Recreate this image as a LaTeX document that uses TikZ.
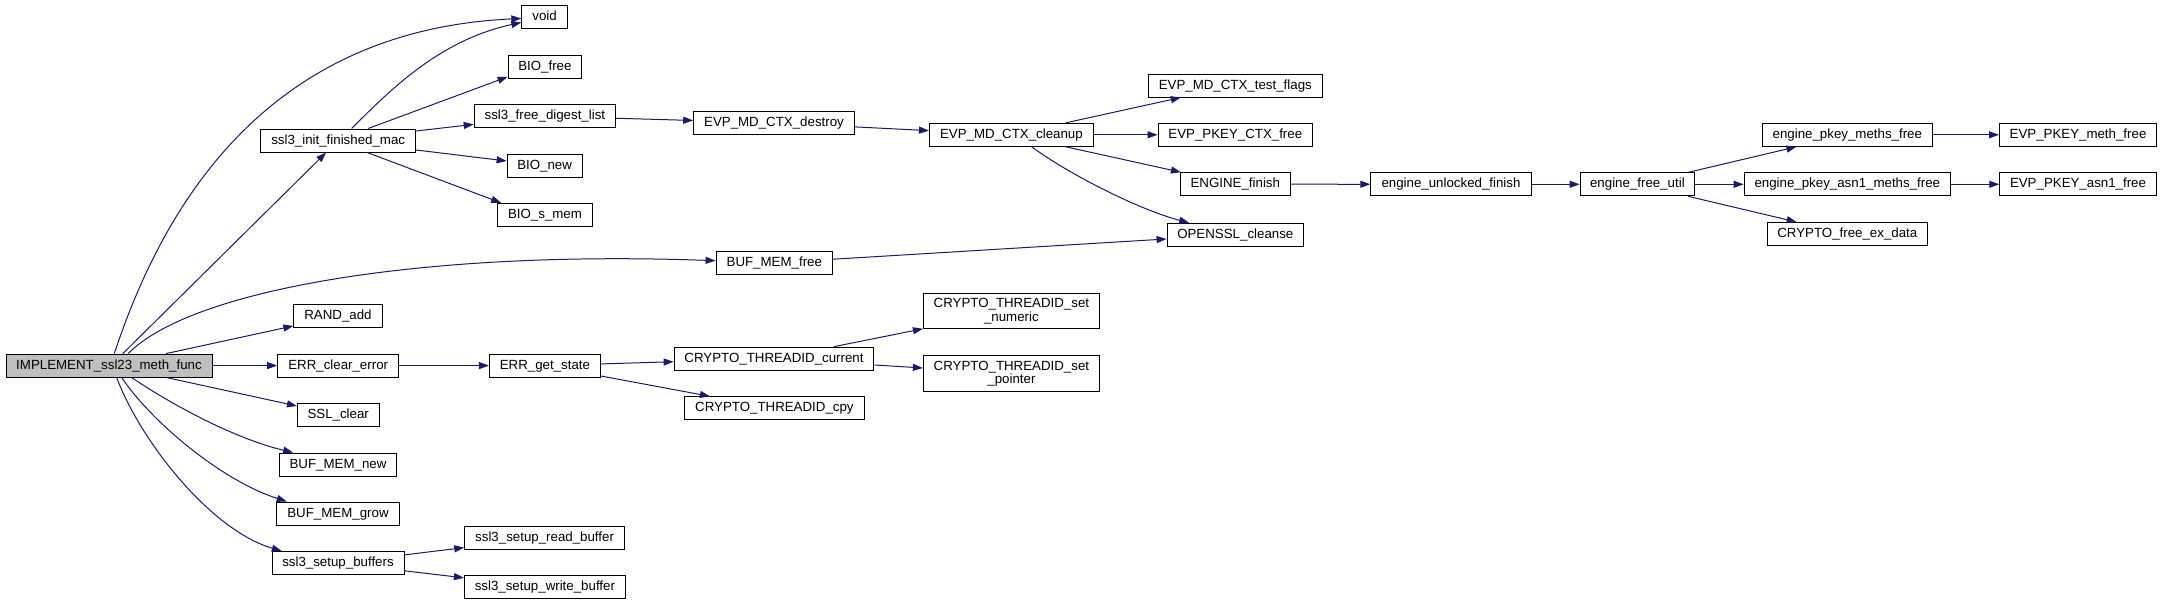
\documentclass[tikz,border=0pt]{standalone}
\usepackage{fontspec}
\setmainfont{Liberation Sans}
\usetikzlibrary{arrows.meta}
\definecolor{edgec}{HTML}{191970}
\definecolor{rootfill}{HTML}{BFBFBF}
\begin{document}
\begin{tikzpicture}[x=1pt,y=-1pt,
  fnbase/.style={draw=black, line width=1pt, fill=white, inner sep=0pt,
    font=\fontsize{13.3}{13.5}\selectfont, anchor=center},
  fn/.style={fnbase, minimum height=23pt, text height=9.6pt, text depth=2.6pt},
  fntwo/.style={fnbase, minimum height=35.6pt, align=center},
  call/.style={draw=edgec, line width=1pt, -{Triangle[length=10pt,width=7pt]}},
]
\useasboundingbox (0,0) rectangle (2163,605);

% nodes
\node[fn, minimum width=206pt, fill=rootfill] (imp) at (109,365.6) {IMPLEMENT\_ssl23\_meth\_func};
\node[fn, minimum width=45.5pt] (void) at (544.6,17.4) {void};
\node[fn, minimum width=73.5pt] (biofree) at (544.9,66.8) {BIO\_free};
\node[fn, minimum width=141.4pt] (sfdl) at (544.9,116.2) {ssl3\_free\_digest\_list};
\node[fn, minimum width=154.8pt] (init) at (338.2,140.5) {ssl3\_init\_finished\_mac};
\node[fn, minimum width=75pt] (bionew) at (544.6,165.6) {BIO\_new};
\node[fn, minimum width=94.6pt] (biosmem) at (545,214.9) {BIO\_s\_mem};
\node[fn, minimum width=88.3pt] (rand) at (338,316.2) {RAND\_add};
\node[fn, minimum width=121pt] (errclr) at (338.2,365.6) {ERR\_clear\_error};
\node[fn, minimum width=111pt] (errget) at (544.9,365.6) {ERR\_get\_state};
\node[fn, minimum width=81.6pt] (sslclear) at (338.2,415) {SSL\_clear};
\node[fn, minimum width=117.3pt] (bmnew) at (338,464.5) {BUF\_MEM\_new};
\node[fn, minimum width=122.3pt] (bmgrow) at (338,513.5) {BUF\_MEM\_grow};
\node[fn, minimum width=132pt] (setup) at (338,563) {ssl3\_setup\_buffers};
\node[fn, minimum width=159.7pt] (rdbuf) at (544.6,537.8) {ssl3\_setup\_read\_buffer};
\node[fn, minimum width=161pt] (wrbuf) at (544.9,587.3) {ssl3\_setup\_write\_buffer};
\node[fn, minimum width=160.6pt] (destroy) at (774,122.8) {EVP\_MD\_CTX\_destroy};
\node[fn, minimum width=116.4pt] (bmfree) at (774.3,262.8) {BUF\_MEM\_free};
\node[fn, minimum width=199.7pt] (thcur) at (774,358.7) {CRYPTO\_THREADID\_current};
\node[fn, minimum width=179.4pt] (thcpy) at (774.4,408.3) {CRYPTO\_THREADID\_cpy};
\node[fn, minimum width=163.8pt] (cleanup) at (1011.4,134.8) {EVP\_MD\_CTX\_cleanup};
\node[fntwo, minimum width=176pt] (thnum) at (1011.4,311) {CRYPTO\_THREADID\_set\\\_numeric};
\node[fntwo, minimum width=176pt] (thptr) at (1011.4,373.5) {CRYPTO\_THREADID\_set\\\_pointer};
\node[fn, minimum width=174pt] (testflags) at (1235.3,85.5) {EVP\_MD\_CTX\_test\_flags};
\node[fn, minimum width=154.4pt] (pkeyctx) at (1235.3,134.8) {EVP\_PKEY\_CTX\_free};
\node[fn, minimum width=110.5pt] (engfin) at (1235.3,184.2) {ENGINE\_finish};
\node[fn, minimum width=136.5pt] (cleanse) at (1235.3,234.8) {OPENSSL\_cleanse};
\node[fn, minimum width=160.3pt] (unlk) at (1451,184.3) {engine\_unlocked\_finish};
\node[fn, minimum width=114.6pt] (futil) at (1637.4,184.3) {engine\_free\_util};
\node[fn, minimum width=170.2pt] (pmeths) at (1847.3,134.8) {engine\_pkey\_meths\_free};
\node[fn, minimum width=206.4pt] (pasn1) at (1847.3,184.3) {engine\_pkey\_asn1\_meths\_free};
\node[fn, minimum width=160.3pt] (exdata) at (1847.3,234) {CRYPTO\_free\_ex\_data};
\node[fn, minimum width=157pt] (pmfree) at (2078,134.8) {EVP\_PKEY\_meth\_free};
\node[fn, minimum width=156.5pt] (pafree) at (2078,184.3) {EVP\_PKEY\_asn1\_free};

% edges from the root
\draw[call] ([xshift=5.3pt]imp.north) .. controls (165,200) and (270,30) .. (void);
\draw[call] ([xshift=13.8pt]imp.north) -- (init);
\draw[call] ([xshift=19.3pt]imp.north) .. controls (190,290) and (420,250) .. (bmfree);
\draw[call] ([xshift=57pt]imp.north) -- (rand);
\draw[call] (imp) -- (errclr);
\draw[call] ([xshift=57.7pt]imp.south) -- (sslclear);
\draw[call] ([xshift=22.7pt]imp.south) .. controls (180,410) and (240,440) .. ([xshift=14.3pt]bmnew.north west);
\draw[call] ([xshift=12.7pt]imp.south) .. controls (150,420) and (220,480) .. ([xshift=10.4pt]bmgrow.north west);
\draw[call] ([xshift=7.7pt]imp.south) .. controls (140,440) and (210,530) .. ([xshift=10.3pt]setup.north west);

% ssl3_init_finished_mac
\draw[call] ([xshift=13.5pt]init.north) .. controls (390,90) and (440,40) .. (void);
\draw[call] ([xshift=30pt]init.north) -- ([yshift=2pt]biofree.south west);
\draw[call] ([yshift=9.5pt]init.east) -- (sfdl);
\draw[call] ([yshift=-9.5pt]init.east) -- (bionew);
\draw[call] ([xshift=29pt]init.south) -- ([xshift=4pt]biosmem.north west);

% digest chain
\draw[call] (sfdl) -- (destroy);
\draw[call] (destroy) -- (cleanup);
\draw[call] (cleanup) -- (testflags);
\draw[call] (cleanup) -- (pkeyctx);
\draw[call] (cleanup) -- (engfin);
\draw[call] ([xshift=20.3pt]cleanup.south) .. controls (1070,175) and (1140,210) .. (cleanse);
\draw[call] (bmfree) -- (cleanse);
\draw[call] (engfin) -- (unlk);
\draw[call] (unlk) -- (futil);
\draw[call] (futil) -- (pmeths);
\draw[call] (futil) -- (pasn1);
\draw[call] (futil) -- (exdata);
\draw[call] (pmeths) -- (pmfree);
\draw[call] (pasn1) -- (pafree);

% error chain
\draw[call] (errclr) -- (errget);
\draw[call] (errget) -- (thcur);
\draw[call] (errget) -- (thcpy);
\draw[call] (thcur) -- (thnum);
\draw[call] (thcur) -- (thptr);

% buffers
\draw[call] (setup) -- (rdbuf);
\draw[call] (setup) -- (wrbuf);
\end{tikzpicture}
\end{document}
